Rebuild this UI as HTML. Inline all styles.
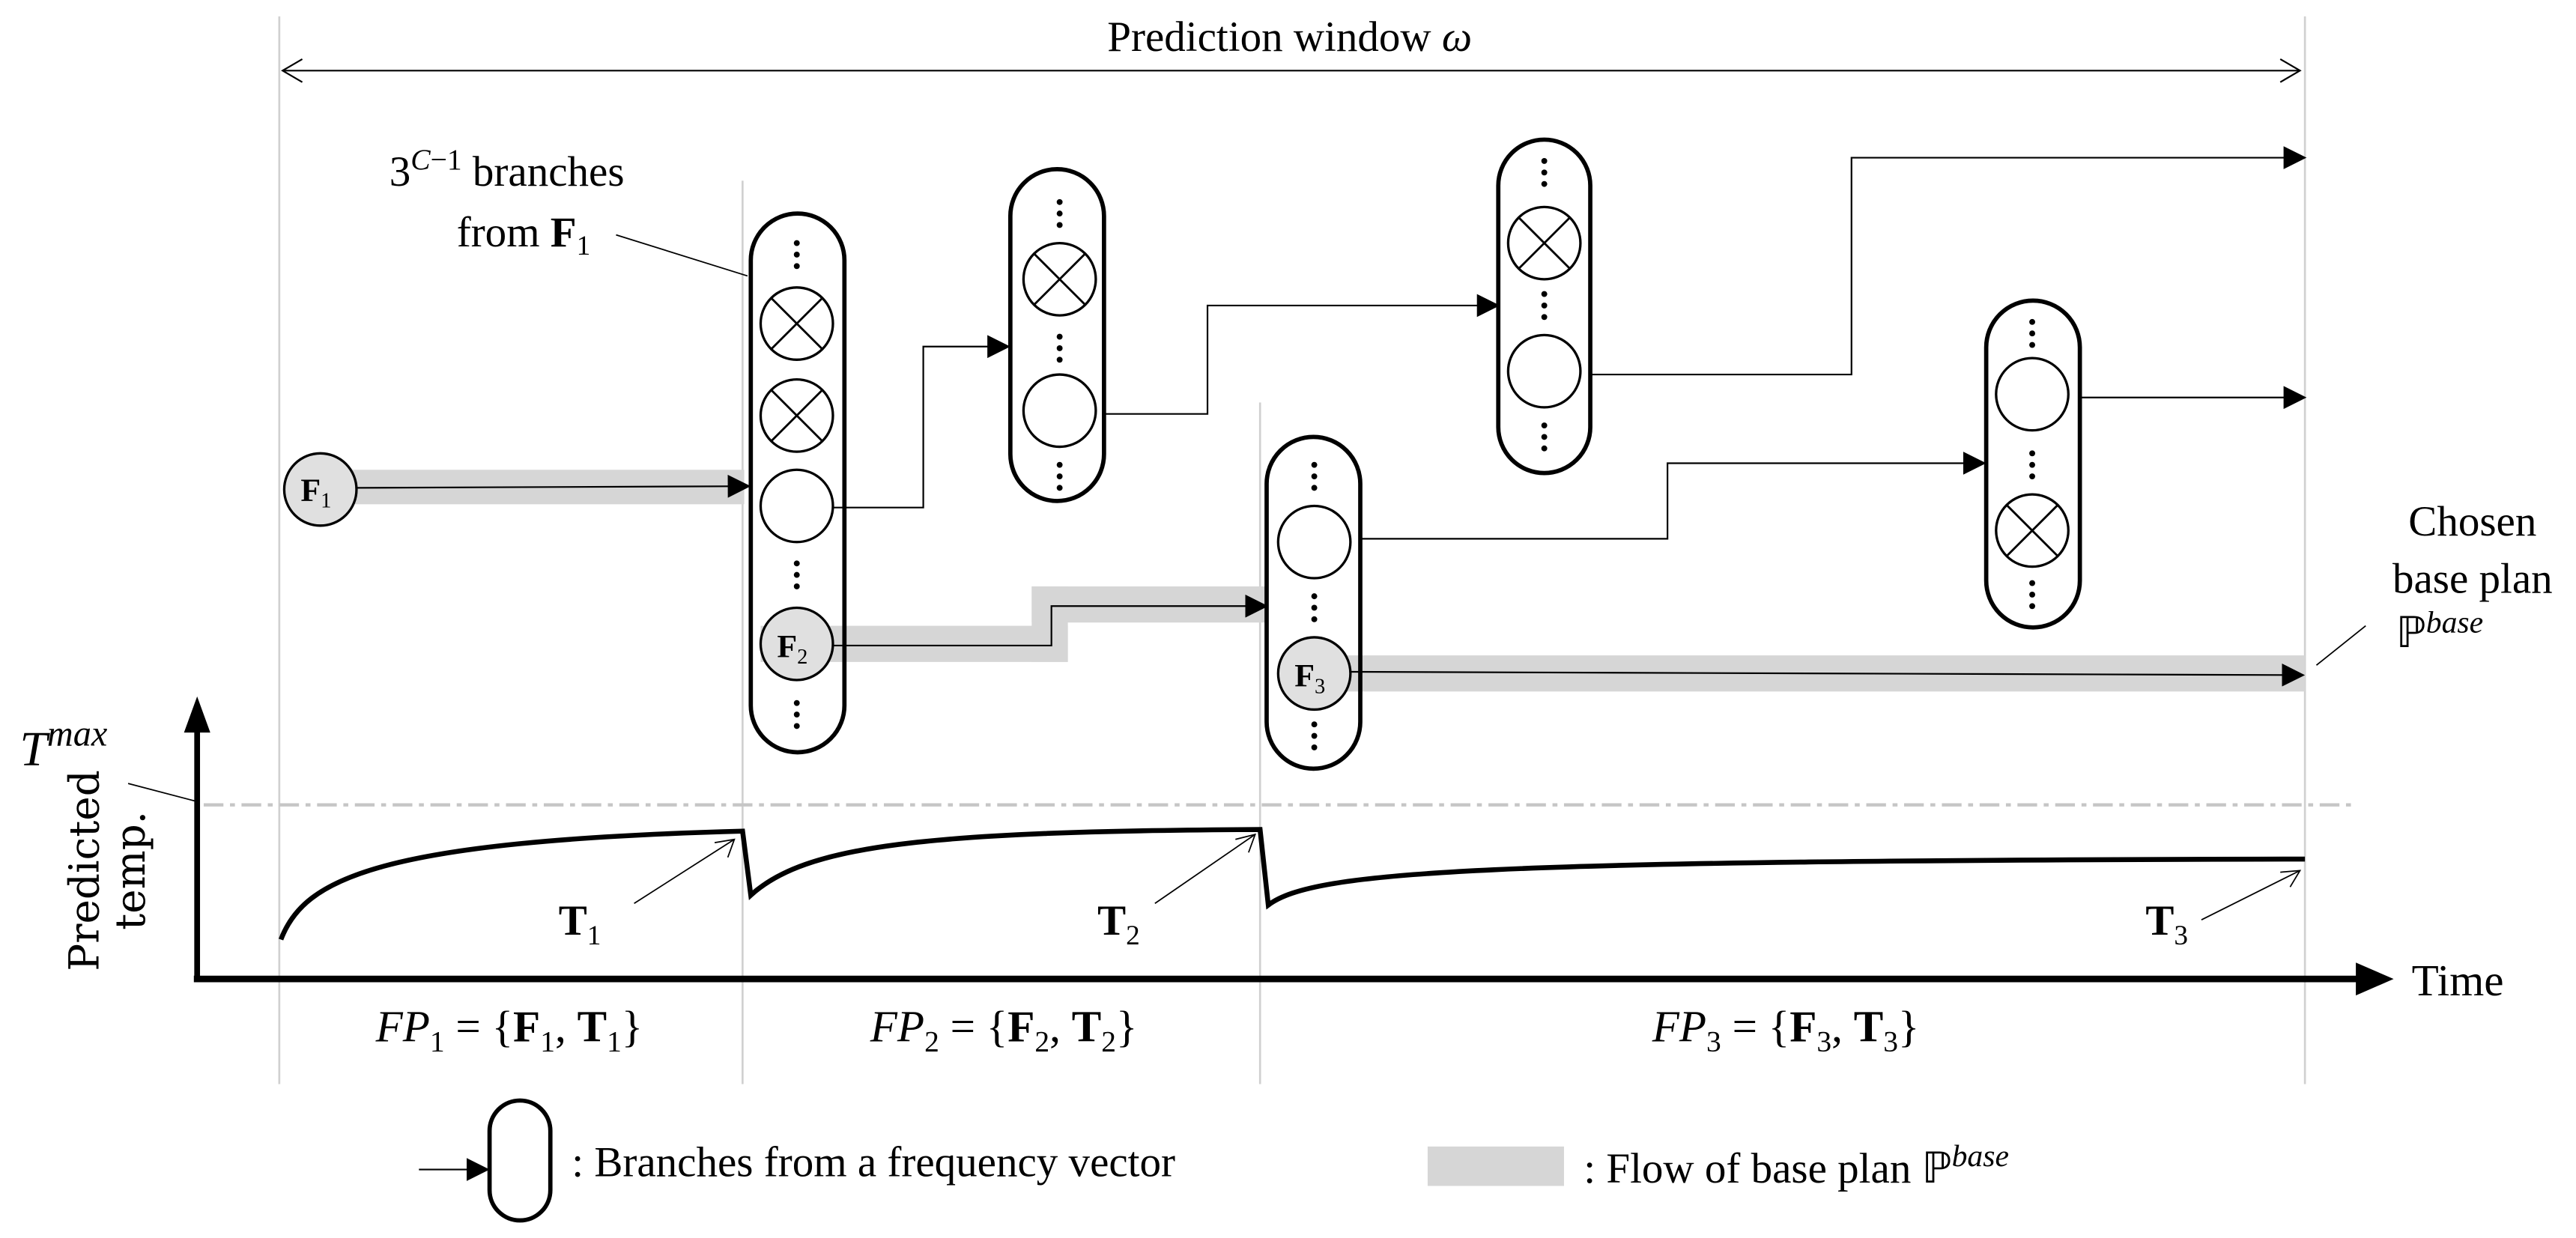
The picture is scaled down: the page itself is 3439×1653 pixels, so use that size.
<!DOCTYPE html>
<html><head><meta charset="utf-8"><style>
html,body{margin:0;padding:0;background:#fff;}
svg{display:block;}
text{font-family:"Liberation Serif",serif;fill:#000;}
</style></head><body>
<svg width="3439" height="1653" viewBox="0 0 1568 753.7" preserveAspectRatio="none" xmlns="http://www.w3.org/2000/svg">
<defs>
<marker id="ah" markerWidth="14" markerHeight="14" refX="13" refY="7" orient="auto" markerUnits="userSpaceOnUse"><path d="M0,0 L14,7 L0,14 z" fill="#000"/></marker>
<g id="vd"><circle cx="0" cy="-7" r="1.8"/><circle cx="0" cy="0" r="1.8"/><circle cx="0" cy="7" r="1.8"/></g>
</defs>
<!-- vertical gray lines -->
<g stroke="#d0d0d0" stroke-width="1.2">
<line x1="170" y1="10" x2="170" y2="660"/>
<line x1="452" y1="110" x2="452" y2="660"/>
<line x1="767" y1="245" x2="767" y2="660"/>
<line x1="1403" y1="10" x2="1403" y2="660"/>
</g>
<!-- prediction window -->
<line x1="172" y1="43" x2="1400" y2="43" stroke="#000" stroke-width="1"/>
<polyline points="184,36 172,43 184,50" fill="none" stroke="#000" stroke-width="1"/>
<polyline points="1388,36 1400,43 1388,50" fill="none" stroke="#000" stroke-width="1"/>
<text x="785" y="31" font-size="26" text-anchor="middle">Prediction window <tspan font-style="italic">ω</tspan></text>
<!-- annotation -->
<text x="237" y="113" font-size="26">3<tspan dy="-10" font-size="18" font-style="italic">C</tspan><tspan font-size="18">−1</tspan><tspan dy="10"> branches</tspan></text>
<text x="278" y="150" font-size="26">from <tspan font-weight="bold">F</tspan><tspan font-size="17" dy="5">1</tspan></text>
<line x1="375" y1="143" x2="455" y2="168" stroke="#000" stroke-width="0.8"/>
<!-- gray bands -->
<g fill="#d6d6d6">
<rect x="195" y="286" width="258" height="21"/>
<rect x="463" y="381" width="187" height="22"/>
<rect x="628" y="357" width="143" height="22"/>
<rect x="628" y="357" width="22" height="46"/>
<rect x="800" y="399" width="603" height="22"/>
</g>
<!-- connectors -->
<g fill="none" stroke="#000" stroke-width="1">
<line x1="217" y1="297" x2="456" y2="296" marker-end="url(#ah)"/>
<polyline points="507,309 562,309 562,211 614,211" marker-end="url(#ah)"/>
<polyline points="672,252 735,252 735,186 912,186" marker-end="url(#ah)"/>
<polyline points="968,228 1127,228 1127,96 1403,96" marker-end="url(#ah)"/>
<polyline points="507,393 640,393 640,369 771,369" marker-end="url(#ah)"/>
<polyline points="828,328 1015,328 1015,282 1208,282" marker-end="url(#ah)"/>
<line x1="1266" y1="242" x2="1403" y2="242" marker-end="url(#ah)"/>
<line x1="822" y1="409" x2="1402" y2="411" marker-end="url(#ah)"/>
</g>
<!-- pills -->
<g fill="none" stroke="#000" stroke-width="2.6">
<rect x="457" y="130" width="57" height="328" rx="28.5"/>
<rect x="615" y="103" width="57" height="202" rx="28.5"/>
<rect x="912" y="85" width="56" height="203" rx="28"/>
<rect x="771" y="266" width="57" height="202" rx="28.5"/>
<rect x="1209" y="183" width="57" height="199" rx="28.5"/>
</g>
<!-- circles -->
<g fill="#fff" stroke="#000" stroke-width="1.5">
<circle cx="195" cy="298" r="22" fill="#e0e0e0"/>
<circle cx="485" cy="197" r="22"/>
<circle cx="485" cy="253" r="22"/>
<circle cx="485" cy="308" r="22"/>
<circle cx="485" cy="392" r="22" fill="#e0e0e0"/>
<circle cx="645" cy="170" r="22"/>
<circle cx="645" cy="250" r="22"/>
<circle cx="940" cy="148" r="22"/>
<circle cx="940" cy="226" r="22"/>
<circle cx="800" cy="330" r="22"/>
<circle cx="800" cy="410" r="22" fill="#e0e0e0"/>
<circle cx="1237" cy="240" r="22"/>
<circle cx="1237" cy="323" r="22"/>
</g>
<!-- crosses -->
<g stroke="#000" stroke-width="1.3">
<path d="M469.4,181.4 L500.6,212.6 M500.6,181.4 L469.4,212.6"/>
<path d="M469.4,237.4 L500.6,268.6 M500.6,237.4 L469.4,268.6"/>
<path d="M629.4,154.4 L660.6,185.6 M660.6,154.4 L629.4,185.6"/>
<path d="M924.4,132.4 L955.6,163.6 M955.6,132.4 L924.4,163.6"/>
<path d="M1221.4,307.4 L1252.6,338.6 M1252.6,307.4 L1221.4,338.6"/>
</g>
<!-- dots -->
<g fill="#000">
<use href="#vd" x="485" y="155"/><use href="#vd" x="485" y="350"/><use href="#vd" x="485" y="435"/>
<use href="#vd" x="645" y="130"/><use href="#vd" x="645" y="212"/><use href="#vd" x="645" y="290"/>
<use href="#vd" x="940" y="105"/><use href="#vd" x="940" y="186"/><use href="#vd" x="940" y="266"/>
<use href="#vd" x="800" y="290"/><use href="#vd" x="800" y="370"/><use href="#vd" x="800" y="448"/>
<use href="#vd" x="1237" y="203"/><use href="#vd" x="1237" y="283"/><use href="#vd" x="1237" y="362"/>
</g>
<!-- F labels -->
<text x="183" y="305" font-size="20" font-weight="bold">F<tspan font-size="13" font-weight="normal" dy="4">1</tspan></text>
<text x="473" y="400" font-size="20" font-weight="bold">F<tspan font-size="13" font-weight="normal" dy="4">2</tspan></text>
<text x="788" y="418" font-size="20" font-weight="bold">F<tspan font-size="13" font-weight="normal" dy="4">3</tspan></text>
<!-- Chosen base plan -->
<text x="1505" y="326" font-size="26" text-anchor="middle">Chosen</text>
<text x="1505" y="361" font-size="26" text-anchor="middle">base plan</text>
<text x="1485" y="394" font-size="26" text-anchor="middle">ℙ<tspan font-size="19" font-style="italic" dy="-9">base</tspan></text>
<line x1="1410" y1="405" x2="1440" y2="381" stroke="#000" stroke-width="0.8"/>
<!-- axes -->
<line x1="120" y1="596" x2="120" y2="440" stroke="#000" stroke-width="3.5"/>
<path d="M112,446 L120,424 L128,446 z" fill="#000"/>
<line x1="118" y1="596" x2="1436" y2="596" stroke="#000" stroke-width="4"/>
<path d="M1434,586 L1457,596 L1434,606 z" fill="#000"/>
<line x1="124" y1="490" x2="1432" y2="490" stroke="#c6c6c6" stroke-width="2" stroke-dasharray="12,4,3,4"/>
<text x="12" y="466" font-size="30" font-style="italic">T<tspan font-size="22" dy="-12">max</tspan></text>
<line x1="78" y1="477" x2="120" y2="488" stroke="#000" stroke-width="0.8"/>
<text transform="translate(60,530) rotate(-90)" font-size="25" text-anchor="middle" style="font-family:'DejaVu Serif',serif">Predicted</text>
<text transform="translate(88,530) rotate(-90)" font-size="25" text-anchor="middle" style="font-family:'DejaVu Serif',serif">temp.</text>
<!-- curves -->
<path d="M171,572 C185,535 230,512 452,506 L457,545 C490,515 560,506 767,505 L772,551 C800,530 900,524 1403,523" fill="none" stroke="#000" stroke-width="3"/>
<!-- T labels -->
<g fill="none" stroke="#000" stroke-width="0.8">
<line x1="386" y1="550" x2="447" y2="511"/><polyline points="435,513 447,511 443,522"/>
<line x1="703" y1="550" x2="764" y2="508"/><polyline points="752,511 764,508 760,519"/>
<line x1="1340" y1="560" x2="1400" y2="530"/><polyline points="1388,531 1400,530 1394,540"/>
</g>
<text x="340" y="569" font-size="26" font-weight="bold">T<tspan font-size="17" font-weight="normal" dy="6">1</tspan></text>
<text x="668" y="569" font-size="26" font-weight="bold">T<tspan font-size="17" font-weight="normal" dy="6">2</tspan></text>
<text x="1306" y="569" font-size="26" font-weight="bold">T<tspan font-size="17" font-weight="normal" dy="6">3</tspan></text>
<text x="1468" y="606" font-size="27">Time</text>
<!-- FP labels -->
<text x="310" y="634" font-size="27" text-anchor="middle"><tspan font-style="italic">FP</tspan><tspan font-size="18" dy="6">1</tspan><tspan dy="-6"> = {</tspan><tspan font-weight="bold">F</tspan><tspan font-size="18" dy="6">1</tspan><tspan dy="-6">, </tspan><tspan font-weight="bold">T</tspan><tspan font-size="18" dy="6">1</tspan><tspan dy="-6">}</tspan></text>
<text x="611" y="634" font-size="27" text-anchor="middle"><tspan font-style="italic">FP</tspan><tspan font-size="18" dy="6">2</tspan><tspan dy="-6"> = {</tspan><tspan font-weight="bold">F</tspan><tspan font-size="18" dy="6">2</tspan><tspan dy="-6">, </tspan><tspan font-weight="bold">T</tspan><tspan font-size="18" dy="6">2</tspan><tspan dy="-6">}</tspan></text>
<text x="1087" y="634" font-size="27" text-anchor="middle"><tspan font-style="italic">FP</tspan><tspan font-size="18" dy="6">3</tspan><tspan dy="-6"> = {</tspan><tspan font-weight="bold">F</tspan><tspan font-size="18" dy="6">3</tspan><tspan dy="-6">, </tspan><tspan font-weight="bold">T</tspan><tspan font-size="18" dy="6">3</tspan><tspan dy="-6">}</tspan></text>
<!-- legend -->
<line x1="255" y1="712" x2="297" y2="712" stroke="#000" stroke-width="1" marker-end="url(#ah)"/>
<rect x="298" y="670" width="37" height="73" rx="18.5" fill="none" stroke="#000" stroke-width="2.6"/>
<text x="348" y="716" font-size="26">: Branches from a frequency vector</text>
<rect x="869" y="698" width="83" height="24" fill="#d6d6d6"/>
<text x="964" y="720" font-size="26">: Flow of base plan ℙ<tspan font-size="19" font-style="italic" dy="-10">base</tspan></text>
</svg>
</body></html>
